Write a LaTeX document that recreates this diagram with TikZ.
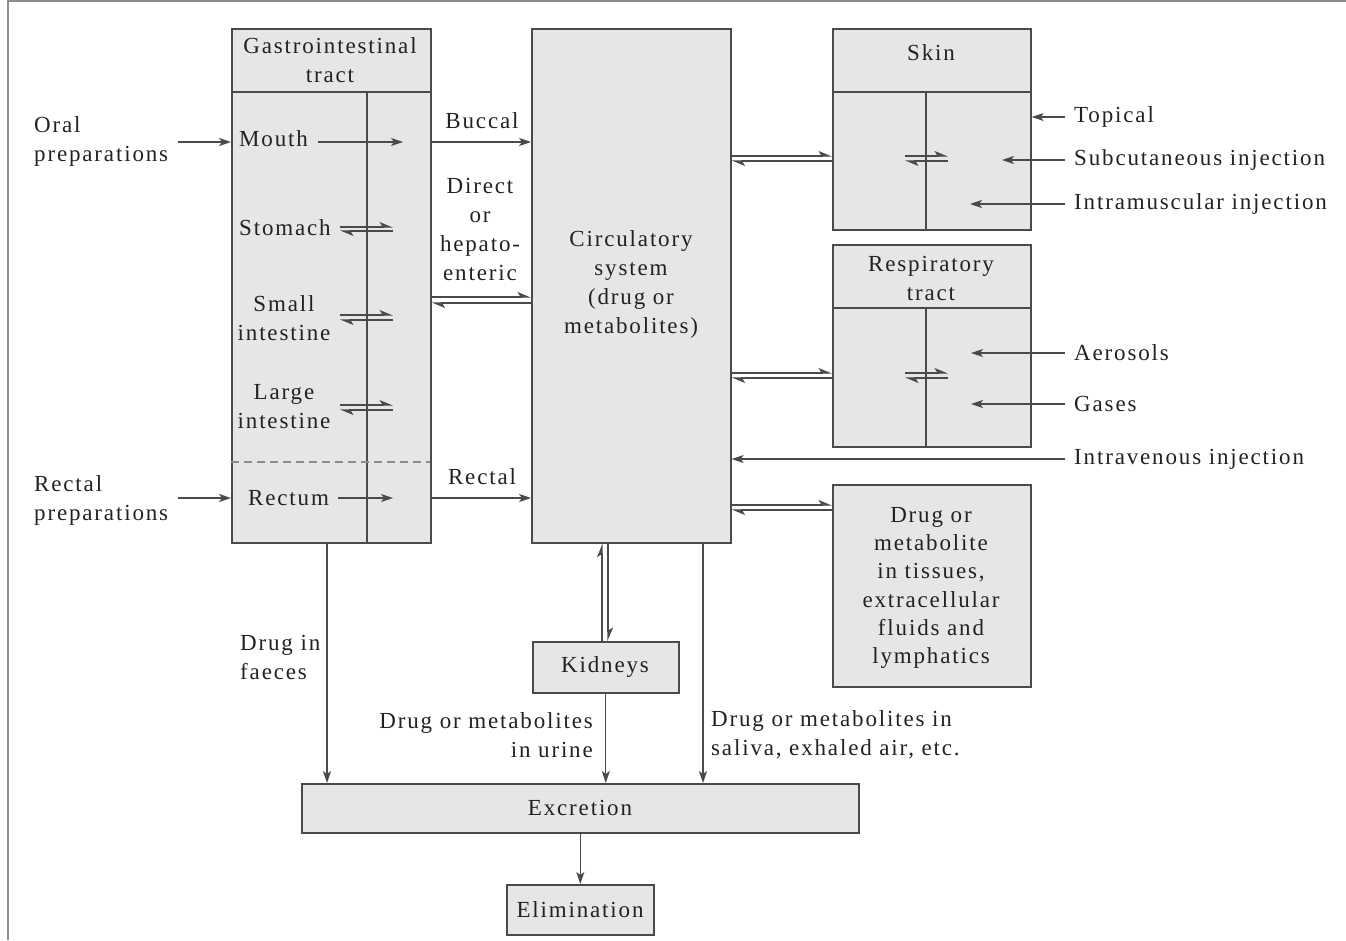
\documentclass[tikz,border=0pt]{standalone}
\usepackage{fontspec}
\setmainfont{Liberation Serif}[LetterSpace=8]
\usetikzlibrary{arrows.meta,calc}
\definecolor{boxfill}{HTML}{E6E6E6}
\definecolor{edge}{HTML}{4A4A4A}
\definecolor{framec}{HTML}{8C8C8C}
\definecolor{txt}{HTML}{222222}
\newcommand\fsz{\fontsize{23}{29}\selectfont}
\tikzset{
  box/.style={draw=edge, fill=boxfill, line width=1.6pt, inner sep=0pt, anchor=north west},
  lbl/.style={font=\fsz, text=txt, align=center, inner sep=0pt},
  arr/.style={draw=edge, line width=1.3pt, -{Stealth[length=12pt,width=8pt,inset=3pt]}},
  hp/.style={draw=edge, line width=1.2pt, -{Stealth[left,length=12pt,width=10pt,inset=3pt]}},
  ln/.style={draw=edge, line width=1.3pt},
}
\begin{document}
\begin{tikzpicture}[x=1pt,y=-1pt]
\useasboundingbox (0,0) rectangle (1346,940);
% outer frame (top and left edges)
\draw[framec, line width=1.2pt] (8,940) -- (8,1) -- (1346,1);

% ---- boxes
\node[box, minimum width=199, minimum height=514] (gi)   at (231,28) {};
\node[box, minimum width=199, minimum height=514] (circ) at (531,28) {};
\node[box, minimum width=198, minimum height=201] (skin) at (832,28) {};
\node[box, minimum width=198, minimum height=202] (resp) at (832,244) {};
\node[box, minimum width=198, minimum height=202] (tiss) at (832,484) {};
\node[box, minimum width=146, minimum height=51]  (kid)  at (532,641) {};
\node[box, minimum width=557, minimum height=49]  (exc)  at (301,783) {};
\node[box, minimum width=147, minimum height=50]  (elim) at (506,884) {};

% ---- inner structure lines
\draw[ln] (231,92) -- (430,92);
\draw[ln] (367,92) -- (367,542);
\draw[draw=framec, line width=1.5pt, dash pattern=on 8pt off 5pt] (231,462) -- (430,462);
\draw[ln] (832,92) -- (1030,92);
\draw[ln] (926,92) -- (926,229);
\draw[ln] (832,308) -- (1030,308);
\draw[ln] (926,308) -- (926,446);

% ---- texts in boxes
\node[lbl] (gih) at (330,60) {Gastrointestinal\\tract};
\node[lbl, anchor=west] (mouth) at (239,139) {Mouth};
\node[lbl, anchor=west] (stomach) at (239,228) {Stomach};
\node[lbl] (small) at (284,318) {Small\\intestine};
\node[lbl] (large) at (284,407) {Large\\intestine};
\node[lbl, anchor=west] (rectum) at (248,498) {Rectum};
\node[lbl] (circt) at (631,284) {Circulatory\\system\\(drug or\\metabolites)};
\node[lbl] (skint) at (931,53) {Skin};
\node[lbl] (respt) at (931,278) {Respiratory\\tract};
\node[lbl, font=\fontsize{23}{28.3}\selectfont] (tisst) at (931,588) {Drug or\\metabolite\\in tissues,\\extracellular\\fluids and\\lymphatics};
\node[lbl] (kidt) at (605,667) {Kidneys};
\node[lbl] (exct) at (580,808) {Excretion};
\node[lbl] (elimt) at (580,910) {Elimination};

% ---- outside labels
\node[lbl, align=left, anchor=west] (oral) at (34,141) {Oral\\preparations};
\node[lbl, align=left, anchor=west] (rectp) at (34,500) {Rectal\\preparations};
\node[lbl] (buccal) at (482,121) {Buccal};
\node[lbl] (direct) at (480,229) {Direct\\or\\hepato-\\enteric};
\node[lbl] (rectal) at (482,477) {Rectal};
\node[lbl, anchor=west] (topical) at (1074,117) {Topical};
\node[lbl, anchor=west] (subcut) at (1074,160) {Subcutaneous injection};
\node[lbl, anchor=west] (intram) at (1074,204) {Intramuscular injection};
\node[lbl, anchor=west] (aeros) at (1074,353) {Aerosols};
\node[lbl, anchor=west] (gases) at (1074,404) {Gases};
\node[lbl, anchor=west] (intrav) at (1074,459) {Intravenous injection};
\node[lbl, align=left, anchor=west] (faeces) at (240,657) {Drug in\\faeces};
\node[lbl, align=right, anchor=east] (urine) at (593,735) {Drug or metabolites\\in urine};
\node[lbl, align=left, anchor=west] (saliva) at (711,735) {Drug or metabolites in\\saliva, exhaled air, etc.};

% ---- named end points
\coordinate (ymouth) at (0,142);
\coordinate (mouthend) at (403,142);
\coordinate (rectumend) at (393,498);
\coordinate (yrect) at (0,498);
\coordinate (subend) at (1002,160);
\coordinate (imend) at (970,204);
\coordinate (aeend) at (971,353);
\coordinate (gaend) at (971,404);
\coordinate (gx) at (327,0);
\coordinate (cx) at (703,0);
\coordinate (ku) at (602,0);
\coordinate (kd) at (608,0);

% ---- input arrows
\draw[arr] ([xshift=10]oral.east |- ymouth) -- (gi.west |- ymouth);
\draw[arr] ([xshift=10]rectp.east |- yrect) -- (gi.west |- yrect);
\draw[arr] ([xshift=10]mouth.east |- ymouth) -- (mouthend);
\draw[arr] ([xshift=9]rectum.east |- yrect) -- (rectumend);
\draw[arr] (gi.east |- ymouth) -- (circ.west |- ymouth);
\draw[arr] (gi.east |- yrect) -- (circ.west |- yrect);
\draw[arr] ([xshift=-9]topical.west) -- (skin.east |- topical.west);
\draw[arr] ([xshift=-9]subcut.west) -- (subend);
\draw[arr] ([xshift=-9]intram.west) -- (imend);
\draw[arr] ([xshift=-9]aeros.west) -- (aeend);
\draw[arr] ([xshift=-9]gases.west) -- (gaend);
\draw[arr] ([xshift=-9]intrav.west) -- (circ.east |- intrav.west);

% ---- reversible exchanges (harpoons)
% inside GI tract
\draw[hp] (340,227) -- (393,227);  \draw[hp] (393,231) -- (340,231);
\draw[hp] (340,315) -- (393,315);  \draw[hp] (393,320) -- (340,320);
\draw[hp] (340,405) -- (393,405);  \draw[hp] (393,410) -- (340,410);
% inside skin and respiratory tract
\draw[hp] (905,156) -- (948,156);  \draw[hp] (948,161) -- (905,161);
\draw[hp] (905,373) -- (948,373);  \draw[hp] (948,378) -- (905,378);
% GI <-> circulatory
\draw[hp] (gi.east |- 0,297) -- (circ.west |- 0,297);
\draw[hp] (circ.west |- 0,303) -- (gi.east |- 0,303);
% circulatory <-> skin, respiratory, tissues
\draw[hp] (circ.east |- 0,156) -- (skin.west |- 0,156);
\draw[hp] (skin.west |- 0,161) -- (circ.east |- 0,161);
\draw[hp] (circ.east |- 0,373) -- (resp.west |- 0,373);
\draw[hp] (resp.west |- 0,378) -- (circ.east |- 0,378);
\draw[hp] (circ.east |- 0,505) -- (tiss.west |- 0,505);
\draw[hp] (tiss.west |- 0,510) -- (circ.east |- 0,510);
% circulatory <-> kidneys
\draw[hp] (kid.north -| ku) -- (circ.south -| ku);
\draw[hp] (circ.south -| kd) -- (kid.north -| kd);

% ---- excretion
\draw[arr] (gi.south -| gx) -- (exc.north -| gx);
\draw[arr] (kid.south) -- (kid.south |- exc.north);
\draw[arr] (circ.south -| cx) -- (exc.north -| cx);
\draw[arr] (exc.south) -- (elim.north);
\end{tikzpicture}
\end{document}
